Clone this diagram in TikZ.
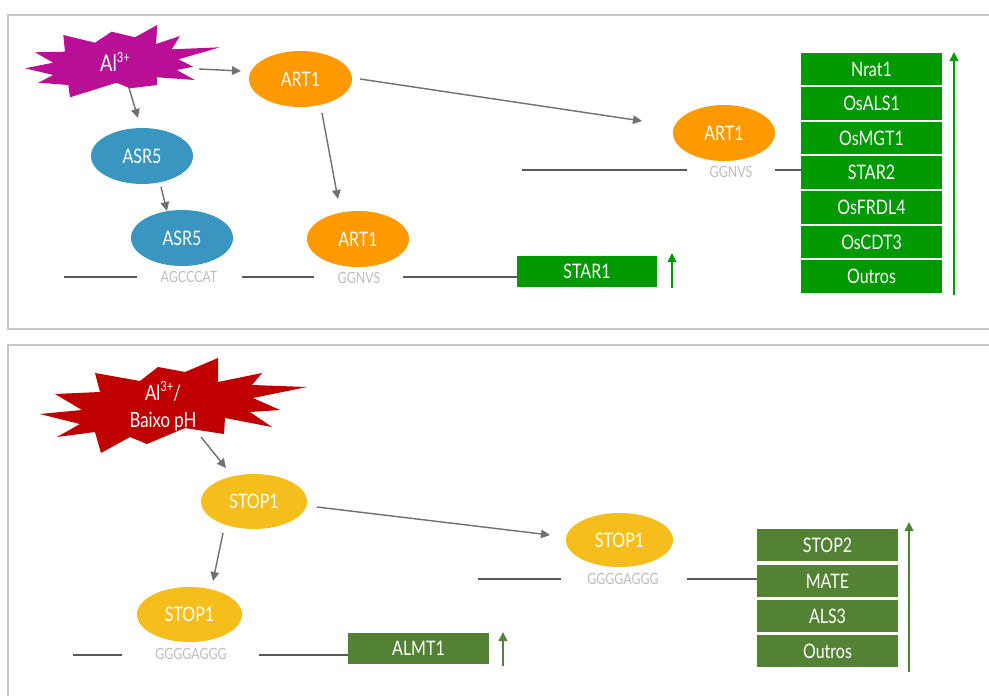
\documentclass[tikz,border=0pt]{standalone}
\usepackage{fontspec}
\setmainfont{Lato}[FakeStretch=0.8]
\usetikzlibrary{shapes.geometric,arrows.meta}
\definecolor{frame}{RGB}{200,200,200}
\definecolor{magentaAl}{RGB}{185,14,150}
\definecolor{redAl}{RGB}{192,0,0}
\definecolor{orangeA}{RGB}{255,153,0}
\definecolor{blueA}{RGB}{56,150,192}
\definecolor{yellowS}{RGB}{245,190,28}
\definecolor{greenA}{RGB}{0,153,0}
\definecolor{oliveS}{RGB}{84,130,53}
\definecolor{arrgray}{RGB}{112,112,112}
\definecolor{dnagray}{RGB}{90,90,90}
\definecolor{seqgray}{RGB}{190,190,190}
\newcommand{\supthree}{\raisebox{0.42em}{\fontsize{14}{15}\selectfont 3+}}
\tikzset{
  oval/.style={ellipse, inner sep=0pt, minimum width=103pt, minimum height=56pt, text=white,
    font=\fontsize{20}{22}\selectfont},
  genebox/.style={rectangle, inner sep=0pt, minimum width=141pt, minimum height=32.5pt, text=white,
    font=\fontsize{20}{22}\selectfont},
  seq/.style={inner sep=0pt, text=seqgray, font=\fontsize{15.5}{17}\selectfont},
  arr/.style={draw=arrgray, line width=1.4pt, -{Triangle[length=9pt,width=8.5pt]}},
  dna/.style={draw=dnagray, line width=1.5pt},
  uparr/.style={line width=2pt, -{Triangle[length=9pt,width=8.5pt]}},
  burstlabel/.style={inner sep=0pt, text=white, align=center, font=\fontsize{21}{27}\selectfont},
}
\begin{document}
\begin{tikzpicture}[x=1pt,y=-1pt]
\useasboundingbox (0,0) rectangle (989,696);
\fill[white] (0,0) rectangle (989,696);
% panels
\draw[frame, line width=1.5pt] (989,15) -- (8,15) -- (8,329) -- (989,329);
\draw[frame, line width=1.5pt] (989,345) -- (8,345) -- (8,696);

% ---------------- top panel ----------------
\fill[magentaAl] (25,68.3) -- (53.3,62.7) -- (35,52.3) -- (65,51.7) -- (63.3,35) -- (95,42.7)
  -- (111.7,31.7) -- (135,37.3) -- (157.3,25) -- (156,44) -- (180,36) -- (171.7,49.3)
  -- (220,47.3) -- (178.3,59.3) -- (193.3,66.7) -- (176.7,70) -- (195,80) -- (156.7,77.3)
  -- (157.3,85) -- (130,88.3) -- (116.7,82.7) -- (70,97.3) -- (68.3,85) -- (38.3,82.7)
  -- (53.3,75) -- cycle;
\node[burstlabel, font=\fontsize{23}{27}\selectfont] (al) at (115,62) {Al\supthree};

\node[oval, fill=orangeA] (art1a) at (300.5,79) {ART1};
\node[oval, fill=blueA, minimum width=102pt] (asr5a) at (142,156) {ASR5};
\node[oval, fill=blueA, minimum width=102pt] (asr5b) at (182,238) {ASR5};
\node[oval, fill=orangeA, minimum width=102pt] (art1b) at (358,239) {ART1};
\node[oval, fill=orangeA, minimum width=102pt] (art1c) at (724,133) {ART1};

\coordinate (alR) at (199,69);   \coordinate (art1aL) at (241,71);
\coordinate (alB) at (129,88);   \coordinate (asr5aT) at (138,118);
\coordinate (asr5aB) at (161,187); \coordinate (asr5bT) at (167,211);
\coordinate (art1aB) at (322,113); \coordinate (art1bT) at (338,199);
\coordinate (art1aR) at (360,79);  \coordinate (art1cL) at (642,121);
\draw[arr] (alR) -- (art1aL);
\draw[arr] (alB) -- (asr5aT);
\draw[arr] (asr5aB) -- (asr5bT);
\draw[arr] (art1aB) -- (art1bT);
\draw[arr] (art1aR) -- (art1cL);

% lower DNA (top panel)
\node[seq] (s1) at (189,277) {AGCCCAT};
\node[seq] (s2) at (359,278) {GGNVS};
\node[genebox, fill=greenA, minimum height=31pt, minimum width=140pt] (star1) at (587,271.5) {STAR1};
\coordinate (d1a) at (64,277); \coordinate (d1b) at (137,277);
\coordinate (d2a) at (242,277); \coordinate (d2b) at (314,277);
\coordinate (d3a) at (403,277);
\draw[dna] (d1a) -- (d1b);
\draw[dna] (d2a) -- (d2b);
\draw[dna] (d3a) -- (d3a -| star1.west);
\coordinate (u1a) at (672,288); \coordinate (u1b) at (672,253);
\draw[uparr, greenA] (u1a) -- (u1b);

% right DNA (top panel)
\node[seq] (s3) at (731,172) {GGNVS};
\node[genebox, fill=greenA] (g1) at (871.5,68.9) {Nrat1};
\node[genebox, fill=greenA] (g2) at (871.5,103.5) {OsALS1};
\node[genebox, fill=greenA] (g3) at (871.5,138.1) {OsMGT1};
\node[genebox, fill=greenA] (g4) at (871.5,172.7) {STAR2};
\node[genebox, fill=greenA] (g5) at (871.5,207.3) {OsFRDL4};
\node[genebox, fill=greenA] (g6) at (871.5,241.9) {OsCDT3};
\node[genebox, fill=greenA] (g7) at (871.5,276.5) {Outros};
\coordinate (d4a) at (522,170); \coordinate (d4b) at (687,170);
\coordinate (d5a) at (775,170);
\draw[dna] (d4a) -- (d4b);
\draw[dna] (d5a) -- (d5a -| g4.west);
\coordinate (u2a) at (954,295); \coordinate (u2b) at (954,52);
\draw[uparr, greenA] (u2a) -- (u2b);

% ---------------- bottom panel ----------------
\fill[redAl] (40,414) -- (82,410) -- (55,394) -- (100,392) -- (95,373) -- (140,381)
  -- (158,367) -- (185,372) -- (218,358) -- (218,382) -- (262,373) -- (252,385)
  -- (307,387) -- (253,398) -- (280,410) -- (250,412) -- (272,427) -- (225,418)
  -- (224,434) -- (185,428) -- (147,444) -- (130,437) -- (101,453) -- (95,432)
  -- (57,437) -- (80,424) -- cycle;
\node[burstlabel] (alph) at (163,406) {Al\supthree/\\Baixo pH};

\node[oval, fill=yellowS, minimum width=106pt, minimum height=55pt] (stop1a) at (254,501.5) {STOP1};
\node[oval, fill=yellowS, minimum width=105pt, minimum height=55pt] (stop1b) at (189.5,614.5) {STOP1};
\node[oval, fill=yellowS, minimum width=107pt, minimum height=54pt] (stop1c) at (619.5,540) {STOP1};

\coordinate (alphB) at (201,437); \coordinate (stop1aT) at (226,468);
\coordinate (stop1aB) at (223,533); \coordinate (stop1bT) at (213,581);
\coordinate (stop1aR) at (317,507); \coordinate (stop1cL) at (550,535);
\draw[arr] (alphB) -- (stop1aT);
\draw[arr] (stop1aB) -- (stop1bT);
\draw[arr] (stop1aR) -- (stop1cL);

% lower DNA (bottom panel)
\node[seq] (s4) at (191,654) {GGGGAGGG};
\node[genebox, fill=oliveS, minimum height=31pt] (almt1) at (418.5,648.5) {ALMT1};
\coordinate (d6a) at (73,655); \coordinate (d6b) at (122,655);
\coordinate (d7a) at (259,655);
\draw[dna] (d6a) -- (d6b);
\draw[dna] (d7a) -- (d7a -| almt1.west);
\coordinate (u3a) at (503,666); \coordinate (u3b) at (503,632);
\draw[uparr, oliveS] (u3a) -- (u3b);

% right DNA (bottom panel)
\node[seq] (s5) at (623,578.5) {GGGGAGGG};
\node[genebox, fill=oliveS, minimum height=32pt] (h1) at (827.5,545) {STOP2};
\node[genebox, fill=oliveS, minimum height=32pt] (h2) at (827.5,581) {MATE};
\node[genebox, fill=oliveS, minimum height=32pt] (h3) at (827.5,616) {ALS3};
\node[genebox, fill=oliveS, minimum height=32pt] (h4) at (827.5,651) {Outros};
\coordinate (d8a) at (478,579); \coordinate (d8b) at (561,579);
\coordinate (d9a) at (687,579);
\draw[dna] (d8a) -- (d8b);
\draw[dna] (d9a) -- (d9a -| h2.west);
\coordinate (u4a) at (909,672); \coordinate (u4b) at (909,522);
\draw[uparr, oliveS] (u4a) -- (u4b);
\end{tikzpicture}
\end{document}
